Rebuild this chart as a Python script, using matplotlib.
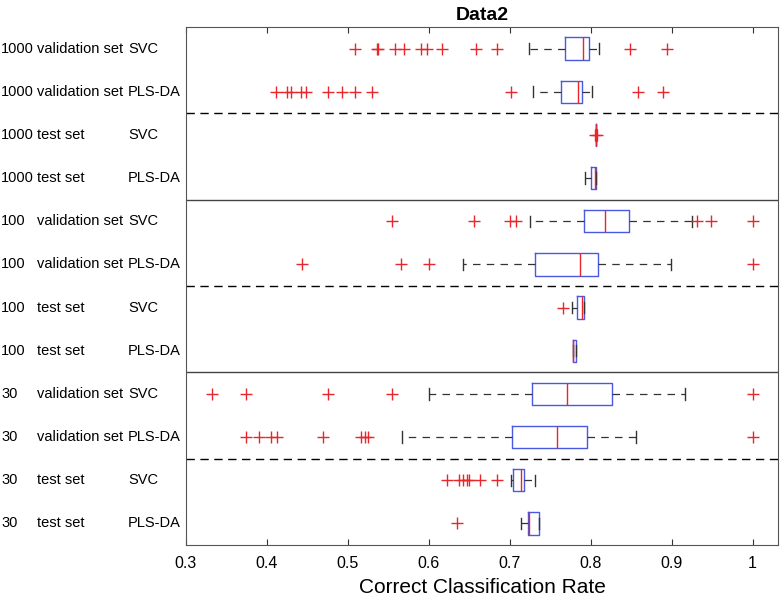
import matplotlib.pyplot as plt
import matplotlib.transforms as mtransforms

plt.rcParams['font.family'] = ['Liberation Sans', 'DejaVu Sans']

# row labels (top to bottom)
sizes = ['1000', '1000', '1000', '1000', '100', '100', '100', '100', '30', '30', '30', '30']
sets = ['validation set', 'validation set', 'test set', 'test set'] * 3
models = ['SVC', 'PLS-DA'] * 6

# box statistics
q1 = [0.768, 0.764, 0.807, 0.800, 0.792, 0.731, 0.783, 0.778, 0.728, 0.703, 0.704, 0.723]
med = [0.791, 0.785, 0.807, 0.805, 0.818, 0.787, 0.790, 0.7785, 0.771, 0.758, 0.714, 0.724]
q3 = [0.798, 0.790, 0.807, 0.8066, 0.847, 0.809, 0.792, 0.782, 0.826, 0.795, 0.718, 0.736]
whislo = [0.724, 0.729, 0.807, 0.793, 0.725, 0.642, 0.777, 0.778, 0.600, 0.567, 0.702, 0.714]
whishi = [0.811, 0.802, 0.807, 0.8066, 0.925, 0.899, 0.792, 0.782, 0.917, 0.856, 0.732, 0.736]
fliers = [
    [0.509, 0.536, 0.538, 0.559, 0.570, 0.591, 0.598, 0.617, 0.659, 0.685, 0.849, 0.894],
    [0.4115, 0.425, 0.430, 0.443, 0.4485, 0.476, 0.493, 0.509, 0.530, 0.702, 0.859, 0.889],
    [0.8055, 0.808],
    [],
    [0.555, 0.656, 0.700, 0.708, 0.932, 0.949, 1.0],
    [0.444, 0.566, 0.600, 1.0],
    [0.766],
    [],
    [0.333, 0.374, 0.476, 0.555, 1.0],
    [0.374, 0.390, 0.406, 0.413, 0.470, 0.517, 0.521, 0.525, 1.0],
    [0.623, 0.638, 0.643, 0.648, 0.650, 0.663, 0.684],
    [0.635],
]

stats = []
for i in range(len(med)):
    stats.append(dict(med=med[i], q1=q1[i], q3=q3[i], whislo=whislo[i],
                      whishi=whishi[i], fliers=fliers[i]))

fig = plt.figure(figsize=(7.8, 6), dpi=100)
ax = fig.add_axes([0.238, 0.0917, 0.760, 0.8633])

box_blue = '#4a5ae0'
ax.bxp(stats, positions=range(1, 13), orientation='horizontal', widths=0.52,
       capwidths=0.26, showfliers=True,
       boxprops=dict(color=box_blue, linewidth=1.0),
       medianprops=dict(color='#e8262b', linewidth=1.0),
       whiskerprops=dict(color='#333333', linestyle=(0, (6, 5)), linewidth=0.9),
       capprops=dict(color='#333333', linewidth=1.0),
       flierprops=dict(marker='+', markeredgecolor='#e8262b', markersize=8,
                       markeredgewidth=1.0, linestyle='none'))

# group separators
for y in [2.5, 6.5, 10.5]:
    ax.axhline(y, color='black', linestyle=(0, (6, 4)), linewidth=1.0)
for y in [4.5, 8.5]:
    ax.axhline(y, color='#444444', linewidth=1.0)

ax.set_xlim(0.3, 1.032)
ax.set_ylim(12.5, 0.5)
ax.set_xticks([0.3, 0.4, 0.5, 0.6, 0.7, 0.8, 0.9, 1.0])
ax.set_xticklabels(['0.3', '0.4', '0.5', '0.6', '0.7', '0.8', '0.9', '1'])
ax.tick_params(axis='x', direction='in', top=True, length=4, labelsize=11.5,
               color='#333333', pad=8)
ax.set_yticks([])
for s in ax.spines.values():
    s.set_color('#555555')

# three-column row labels
trans = mtransforms.blended_transform_factory(fig.transFigure, ax.transData)
for i in range(len(sizes)):
    y = i + 1
    ax.text(1 / 780, y, sizes[i], transform=trans, ha='left', va='center', fontsize=10.5)
    ax.text(37 / 780, y, sets[i], transform=trans, ha='left', va='center', fontsize=10.5)
    ax.text(128 / 780, y, models[i], transform=trans, ha='left', va='center', fontsize=10.5)

ax.set_title('Data2', fontsize=14, fontweight='bold', pad=5)
ax.set_xlabel('Correct Classification Rate', fontsize=15, labelpad=5)

fig.savefig('out.png', dpi=100)
